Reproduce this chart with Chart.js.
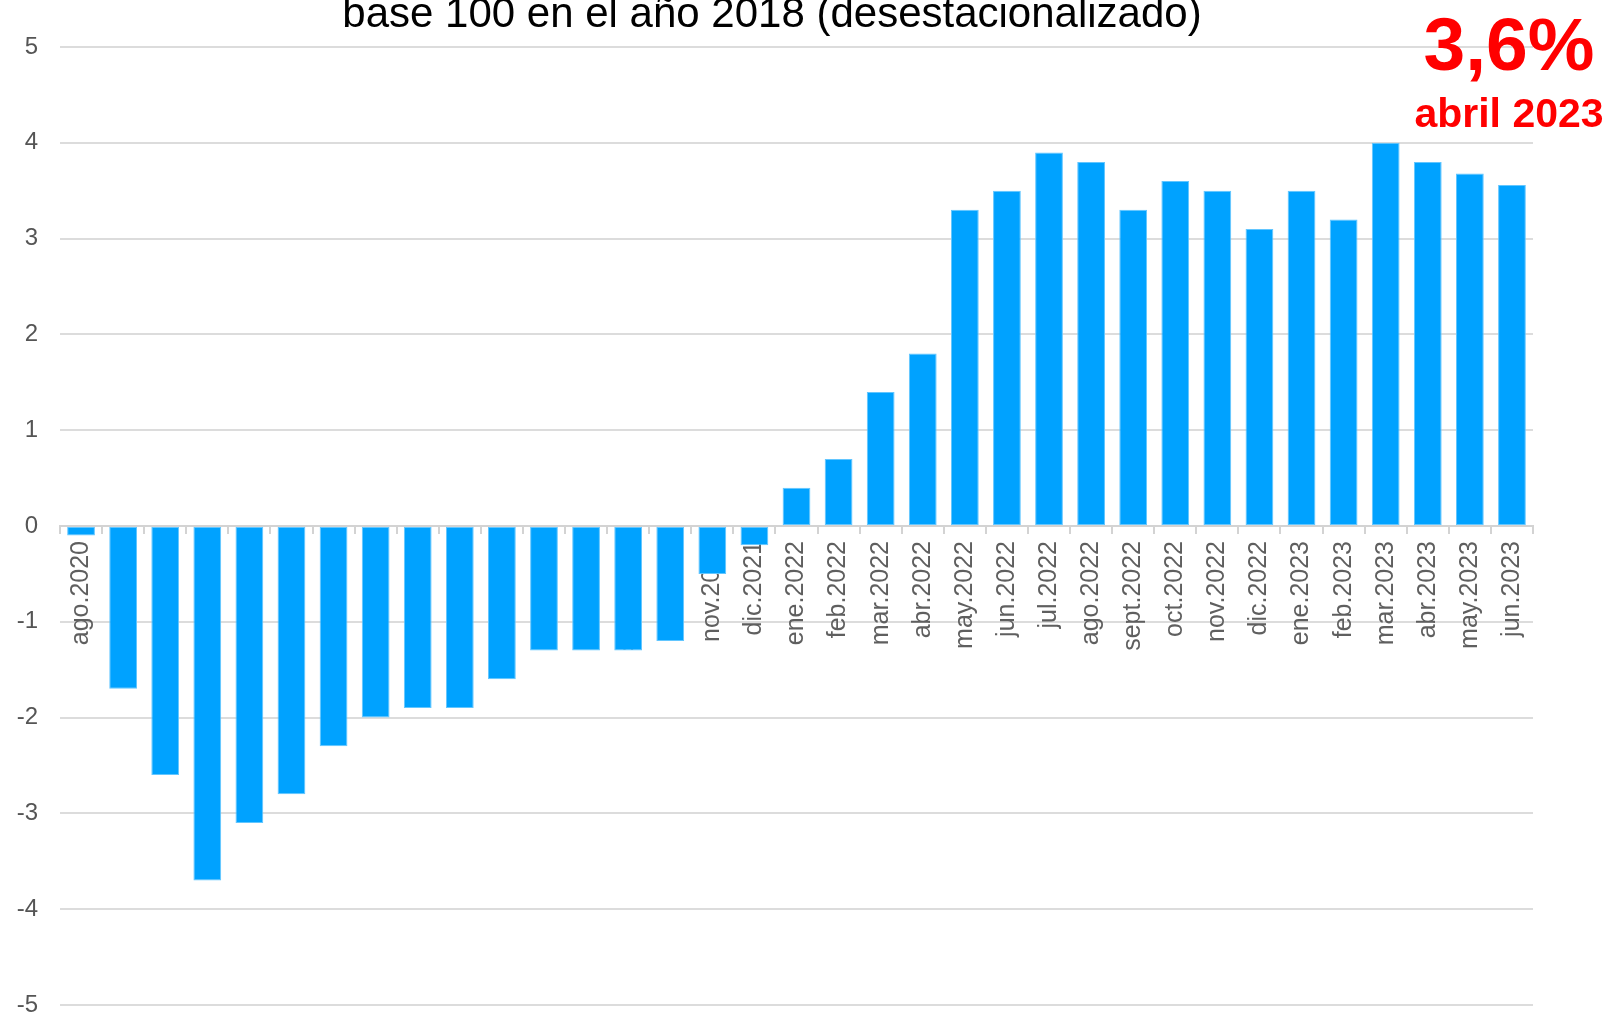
<!DOCTYPE html>
<html>
<head>
<meta charset="utf-8">
<script src="https://cdn.jsdelivr.net/npm/chart.js@4/dist/chart.umd.min.js"></script>
<style>
  html, body { margin: 0; padding: 0; background: #ffffff; }
  #wrap { width: 1611px; height: 1014px; position: relative; }
</style>
</head>
<body>
<div id="wrap"><canvas id="c" width="1611" height="1014"></canvas></div>
<script>
const categories = [
  "ago.2020","sept.2020","oct.2020","nov.2020","dic.2020",
  "ene.2021","feb.2021","mar.2021","abr.2021","may.2021","jun.2021","jul.2021","ago.2021","sept.2021","oct.2021","nov.2021","dic.2021",
  "ene.2022","feb.2022","mar.2022","abr.2022","may.2022","jun.2022","jul.2022","ago.2022","sept.2022","oct.2022","nov.2022","dic.2022",
  "ene.2023","feb.2023","mar.2023","abr.2023","may.2023","jun.2023"
];
const values = [
  -0.1, -1.7, -2.6, -3.7, -3.1,
  -2.8, -2.3, -2.0, -1.9, -1.9, -1.6, -1.3, -1.3, -1.3, -1.2, -0.5, -0.2,
  0.4, 0.7, 1.4, 1.8, 3.3, 3.5, 3.9, 3.8, 3.3, 3.6, 3.5, 3.1,
  3.5, 3.2, 4.0, 3.8, 3.68, 3.56
];
const yTicks = [-5, -4, -3, -2, -1, 0, 1, 2, 3, 4, 5];
const titleText = "base 100 en el año 2018 (desestacionalizado)";
const highlightValue = "3,6%";
const highlightLabel = "abril 2023";

const FONT = "'Liberation Sans', Arial, Helvetica, sans-serif";

function zeroPadding(scale) {
  scale.paddingTop = 0;
  scale.paddingBottom = 0;
  scale.paddingLeft = 0;
  scale.paddingRight = 0;
}

const overlayText = {
  id: 'overlayText',
  afterDraw(chart) {
    const ctx = chart.ctx;
    ctx.save();
    ctx.textBaseline = 'alphabetic';
    ctx.textAlign = 'center';
    ctx.fillStyle = '#000000';
    ctx.font = "42px " + FONT;
    ctx.fillText(titleText, 772, 27);
    ctx.fillStyle = '#ff0000';
    ctx.font = "bold 75px " + FONT;
    ctx.fillText(highlightValue, 1509, 70);
    ctx.font = "bold 41px " + FONT;
    ctx.fillText(highlightLabel, 1509, 127);
    ctx.restore();
  }
};

new Chart(document.getElementById('c'), {
  type: 'bar',
  data: {
    labels: categories,
    datasets: [{
      data: values,
      backgroundColor: '#00a2ff',
      borderColor: '#62c6ff',
      borderWidth: 1,
      borderSkipped: false,
      categoryPercentage: 1.0,
      barPercentage: 0.66
    }]
  },
  options: {
    responsive: false,
    animation: false,
    devicePixelRatio: 1,
    layout: { padding: { top: 47, right: 78, bottom: 9, left: 0 } },
    plugins: {
      legend: { display: false },
      title: { display: false },
      tooltip: { enabled: false }
    },
    scales: {
      x: {
        position: { y: 0 },
        offset: true,
        afterFit: zeroPadding,
        grid: {
          display: true,
          offset: true,
          drawOnChartArea: false,
          drawTicks: true,
          tickLength: 7,
          color: '#d3d3d3',
          lineWidth: 2
        },
        border: { display: true, color: '#d3d3d3', width: 2 },
        ticks: {
          autoSkip: false,
          maxRotation: 90,
          minRotation: 90,
          padding: 8,
          color: '#5f5f5f',
          font: { family: FONT, size: 25 }
        }
      },
      y: {
        min: -5,
        max: 5,
        afterFit(scale) { scale.width = 60; zeroPadding(scale); },
        afterBuildTicks(scale) { scale.ticks = yTicks.map(v => ({ value: v })); },
        grid: {
          color: '#dcdcdc',
          lineWidth: 2,
          drawTicks: false
        },
        border: { display: false },
        ticks: {
          padding: 22,
          color: '#555555',
          font: { family: FONT, size: 24 }
        }
      }
    }
  },
  plugins: [overlayText]
});
</script>
</body>
</html>
